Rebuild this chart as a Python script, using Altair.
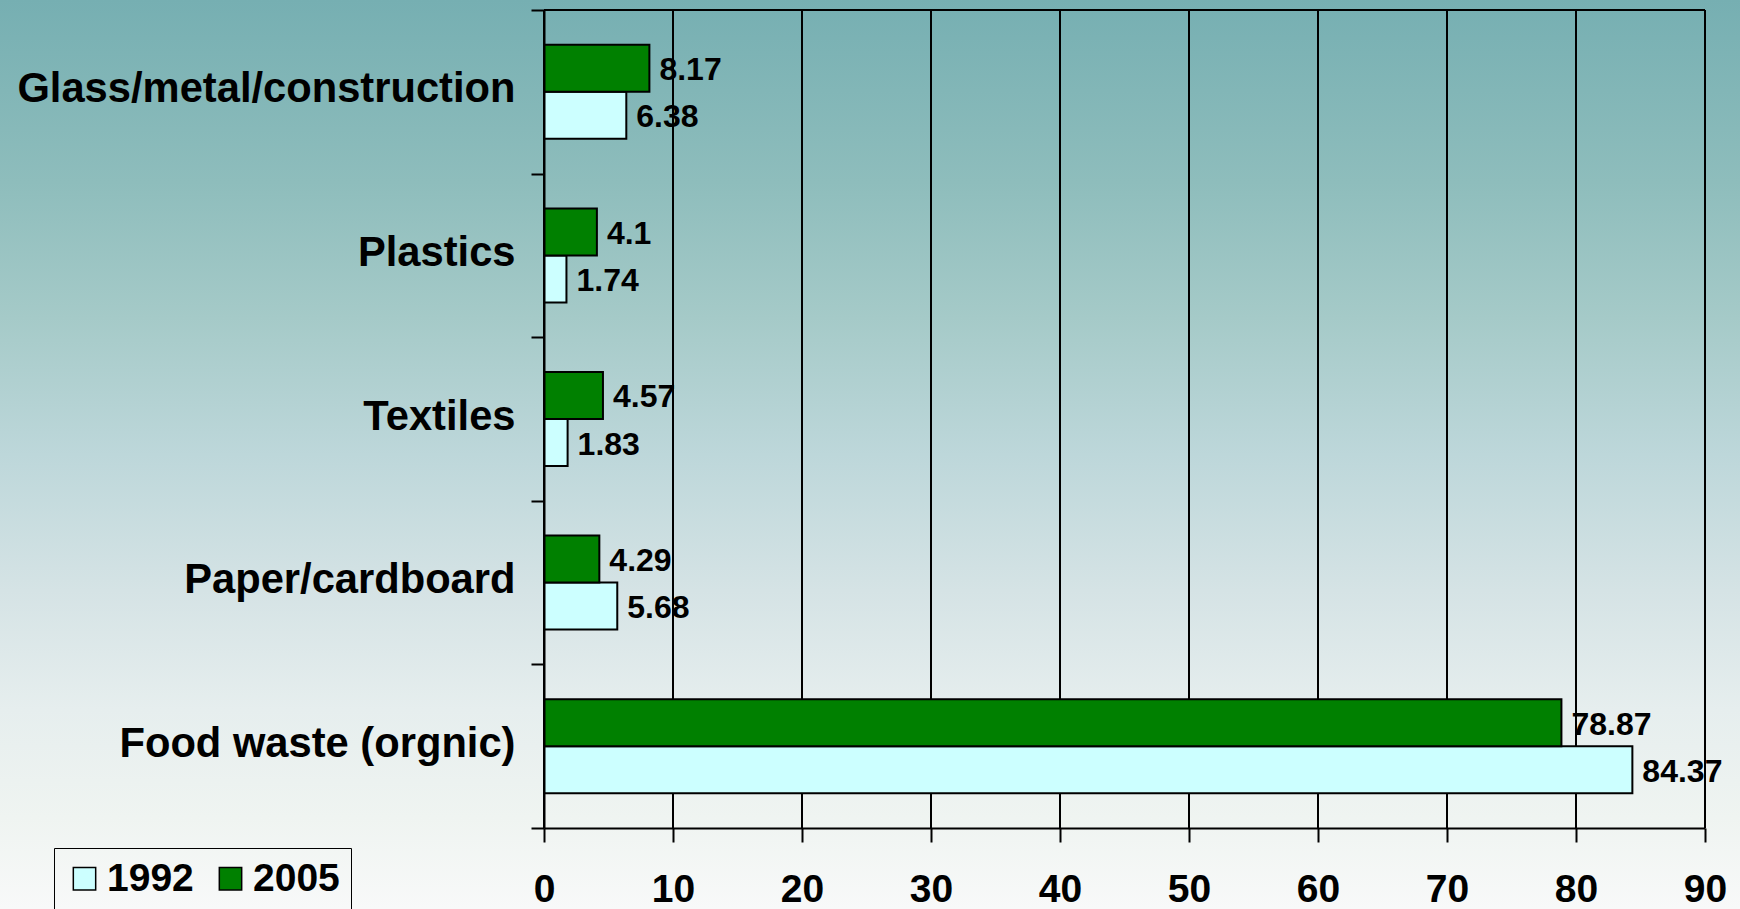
import altair as alt
import pandas as pd

# Waste composition (%) by category, 1992 vs 2005
categories = [
    "Glass/metal/construction",
    "Plastics",
    "Textiles",
    "Paper/cardboard",
    "Food waste (orgnic)",
]
values_1992 = [6.38, 1.74, 1.83, 5.68, 84.37]
values_2005 = [8.17, 4.1, 4.57, 4.29, 78.87]
years = ["1992", "2005"]
year_colors = ["#ccffff", "#008000"]
x_ticks = [0, 10, 20, 30, 40, 50, 60, 70, 80, 90]

rows = []
for cat, v92, v05 in zip(categories, values_1992, values_2005):
    rows.append({"category": cat, "year": "1992", "value": v92, "label": f"{v92:g}"})
    rows.append({"category": cat, "year": "2005", "value": v05, "label": f"{v05:g}"})
df = pd.DataFrame(rows)

W, H = 1161, 818
PAD = {"left": 544, "top": 10, "right": 35, "bottom": 81}
FONT = "Liberation Sans"

# full-canvas vertical gradient behind everything
gradient = alt.LinearGradient(
    gradient="linear",
    x1=0, x2=0, y1=0, y2=1,
    stops=[
        alt.GradientStop(offset=0.0, color="#76afb2"),
        alt.GradientStop(offset=0.2, color="#8ebdbc"),
        alt.GradientStop(offset=0.35, color="#a5cac8"),
        alt.GradientStop(offset=0.5, color="#bdd7da"),
        alt.GradientStop(offset=0.65, color="#d5e3e5"),
        alt.GradientStop(offset=0.78, color="#e6eeee"),
        alt.GradientStop(offset=0.9, color="#eff4f1"),
        alt.GradientStop(offset=1.0, color="#f8f9f9"),
    ],
)
background = alt.Chart(alt.Data(values=[{}])).mark_rect(color=gradient).encode(
    x=alt.value(-PAD["left"]),
    x2=alt.value(W + PAD["right"]),
    y=alt.value(-PAD["top"]),
    y2=alt.value(H + PAD["bottom"]),
)

x_scale = alt.Scale(domain=[0, 90], nice=False)

grid = alt.Chart(pd.DataFrame({"tick": x_ticks})).mark_rule(
    color="black", strokeWidth=2
).encode(x=alt.X("tick:Q", scale=x_scale))

top_line = alt.Chart(alt.Data(values=[{}])).mark_rule(
    color="black", strokeWidth=2
).encode(
    x=alt.datum(0, scale=x_scale),
    x2=alt.datum(90),
    y=alt.value(0),
)

y_enc = alt.Y(
    "category:N",
    sort=categories,
    scale=alt.Scale(paddingInner=0, paddingOuter=0),
    axis=alt.Axis(
        title=None,
        tickBand="extent",
        labelFontSize=41.7,
        labelFont=FONT,
        labelFontWeight="bold",
        labelColor="black",
        labelPadding=16,
        labelOffset=-3,
        labelLimit=0,
        tickSize=13,
        tickColor="black",
        tickWidth=2,
        domainColor="black",
        domainWidth=2,
        grid=False,
        zindex=1,
    ),
)
y_off = alt.YOffset(
    "year:N",
    sort=["2005", "1992"],
    scale=alt.Scale(paddingInner=0, paddingOuter=0.74),
)
x_enc = alt.X(
    "value:Q",
    scale=x_scale,
    axis=alt.Axis(
        title=None,
        values=x_ticks,
        labelFontSize=39,
        labelFont=FONT,
        labelFontWeight="bold",
        labelColor="black",
        labelPadding=28,
        labelFlush=False,
        tickSize=14,
        tickColor="black",
        tickWidth=2,
        domainColor="black",
        domainWidth=2,
        grid=False,
        zindex=1,
    ),
)

bars = alt.Chart(df).mark_bar(stroke="black", strokeWidth=2).encode(
    y=y_enc,
    yOffset=y_off,
    x=x_enc,
    color=alt.Color(
        "year:N",
        scale=alt.Scale(domain=years, range=year_colors),
        legend=alt.Legend(
            title=None,
            orient="none",
            legendX=-490,
            legendY=838,
            direction="horizontal",
            symbolType="square",
            symbolSize=500,
            symbolStrokeColor="black",
            symbolStrokeWidth=1.5,
            labelFontSize=39,
            labelFont=FONT,
            labelFontWeight="bold",
            labelColor="black",
            labelOffset=3,
            columnPadding=17,
            padding=11,
            strokeColor="black",
        ),
    ),
)

labels = alt.Chart(df).mark_text(
    align="left",
    baseline="middle",
    dx=10,
    dy=2,
    fontSize=32,
    fontWeight="bold",
    font=FONT,
    color="black",
).encode(
    y=alt.Y("category:N", sort=categories),
    yOffset=alt.YOffset("year:N", sort=["2005", "1992"]),
    x=alt.X("value:Q"),
    text="label:N",
)

chart = alt.layer(background, grid, top_line, bars, labels).properties(
    width=W,
    height=H,
    padding=PAD,
    autosize=alt.AutoSizeParams(type="none"),
    background="#f8f9f9",
).configure_view(stroke=None)

chart.save("out.html", embed_options={"renderer": "svg", "actions": False})
